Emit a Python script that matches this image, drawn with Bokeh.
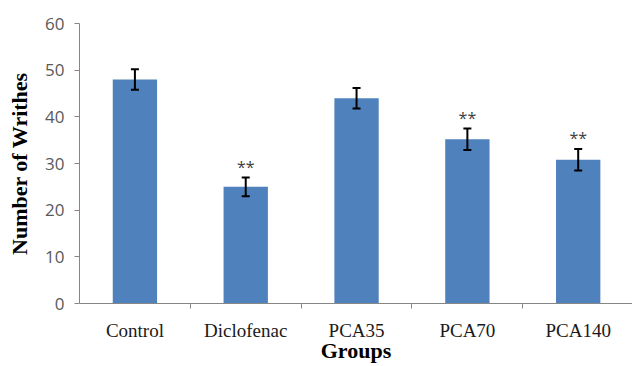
from bokeh.plotting import figure
from bokeh.models import ColumnDataSource, Range1d, FixedTicker, Whisker, TeeHead
from bokeh.core.properties import value
from bokeh.embed import file_html
from bokeh.resources import INLINE

groups = ["Control", "Diclofenac", "PCA35", "PCA70", "PCA140"]
writhes = [48.0, 25.0, 44.0, 35.2, 30.8]
errors = [2.2, 2.0, 2.2, 2.3, 2.3]
marks = ["", "**", "", "**", "**"]
y_ticks = [0, 10, 20, 30, 40, 50, 60]

xpos = [i + 0.5 for i in range(len(groups))]
src = ColumnDataSource(dict(
    x=xpos, y=writhes,
    lo=[v - e for v, e in zip(writhes, errors)],
    hi=[v + e for v, e in zip(writhes, errors)],
    mark=marks,
))

p = figure(width=632, height=366, output_backend="svg", toolbar_location=None,
           x_range=Range1d(0, 4.99), y_range=Range1d(0, 60),
           min_border_left=79, min_border_right=0, min_border_top=23, min_border_bottom=63)
p.outline_line_color = None
p.grid.grid_line_color = None
p.background_fill_color = "white"
p.border_fill_color = "white"

p.vbar(x="x", top="y", bottom=0, width=0.4, source=src, fill_color="#4F81BD", line_color=None)

w = Whisker(base="x", lower="lo", upper="hi", source=src, line_color="black", line_width=2,
            level="overlay",
            upper_head=TeeHead(size=8, line_width=2, line_color="black"),
            lower_head=TeeHead(size=8, line_width=2, line_color="black"))
p.add_layout(w)

p.text(x="x", y="hi", text="mark", source=src, text_align="center", text_baseline="alphabetic",
       y_offset=-11, text_font=value("Open Sans"), text_font_size="16px", text_color="#404040")

# y axis
ya = p.yaxis[0]
ya.ticker = FixedTicker(ticks=y_ticks)
ya.axis_line_color = "#868686"
ya.major_tick_line_color = "#868686"
ya.major_tick_out = 5
ya.major_tick_in = 0
ya.minor_tick_line_color = None
ya.major_label_text_font = "Open Sans"
ya.major_label_text_font_size = "17px"
ya.major_label_text_color = "#595959"
ya.major_label_standoff = 10
ya.axis_label = "Number of Writhes"
ya.axis_label_text_font = "Liberation Serif"
ya.axis_label_text_font_style = "bold"
ya.axis_label_text_font_size = "22px"
ya.axis_label_text_color = "black"
ya.axis_label_standoff = 10

# x axis
xa = p.xaxis[0]
xa.ticker = FixedTicker(ticks=xpos, minor_ticks=[1, 2, 3, 4])
xa.major_label_overrides = {x: g for x, g in zip(xpos, groups)}
xa.axis_line_color = "#868686"
xa.major_tick_line_color = None
xa.major_tick_out = 0
xa.major_tick_in = 0
xa.minor_tick_line_color = "#868686"
xa.minor_tick_out = 5
xa.minor_tick_in = 0
xa.major_label_text_font = "Liberation Serif"
xa.major_label_text_font_size = "19px"
xa.major_label_text_color = "#1a1a1a"
xa.major_label_standoff = 11
xa.axis_label = "Groups"
xa.axis_label_text_font = "Liberation Serif"
xa.axis_label_text_font_style = "bold"
xa.axis_label_text_font_size = "22px"
xa.axis_label_text_color = "black"
xa.axis_label_standoff = -6

open("out.html", "w").write(file_html(p, INLINE))
